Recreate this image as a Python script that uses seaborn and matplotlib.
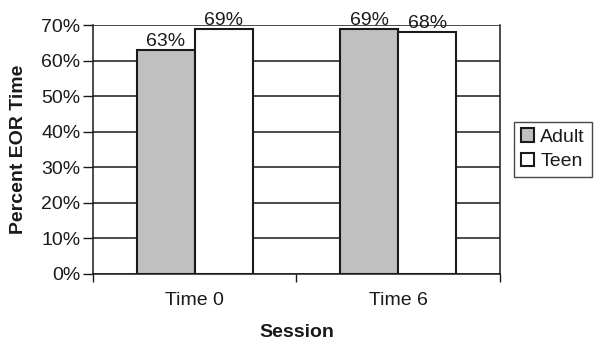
import pandas as pd
import numpy as np
import matplotlib
matplotlib.use("Agg")
import matplotlib.pyplot as plt
import seaborn as sns

# donnees
sessions = ["Time 0", "Time 6"]
groups = ["Adult", "Teen"]
adult = [63, 69]
teen = [69, 68]

df = pd.DataFrame({
    "Session": sessions * 2,
    "Group": ["Adult"] * 2 + ["Teen"] * 2,
    "Value": adult + teen,
})

sns.set_style("white")
plt.rcParams["font.family"] = ["Liberation Sans", "DejaVu Sans"]
fs = 14

fig = plt.figure(figsize=(6, 3.45), dpi=100)
ax = fig.add_axes([0.155, 0.206, 0.678, 0.7215])

sns.barplot(data=df, x="Session", y="Value", hue="Group", hue_order=groups,
            palette=["#c0c0c0", "#ffffff"], edgecolor="#1a1a1a", linewidth=1.5,
            width=0.57, gap=0, ax=ax, zorder=3)

ax.set_ylim(0, 70)
ax.set_xlim(-0.5, 1.5)
ax.set_yticks(np.arange(0, 71, 10))
ax.set_yticklabels([f"{v}%" for v in range(0, 71, 10)], fontsize=fs, color="#1a1a1a")
ax.yaxis.grid(True, color="#1a1a1a", linewidth=1.1)
ax.set_axisbelow(True)

# ticks aux separations des categories
ax.set_xticks([-0.5, 0.5, 1.5])
ax.set_xticklabels([])
ax.set_xticks([0, 1], minor=True)
ax.set_xticklabels(sessions, minor=True, fontsize=fs, color="#1a1a1a")
ax.tick_params(axis="x", which="major", direction="out", length=6, width=1, color="#1a1a1a", bottom=True)
ax.tick_params(axis="x", which="minor", length=0, pad=13)
ax.tick_params(axis="y", direction="out", length=7, width=1, color="#1a1a1a", left=True, pad=2)

for s in ["left", "bottom", "right"]:
    ax.spines[s].set_color("#1a1a1a")
    ax.spines[s].set_linewidth(1.1)
ax.spines["top"].set_visible(False)

for cont in ax.containers:
    ax.bar_label(cont, labels=[f"{v:.0f}%" for v in cont.datavalues], fontsize=fs,
                 padding=0, color="#1a1a1a")

ax.set_xlabel("Session", fontsize=fs, fontweight="bold", labelpad=11, color="#1a1a1a")
ax.set_ylabel("Percent EOR Time", fontsize=fs, fontweight="bold", labelpad=10, color="#1a1a1a")

leg = ax.legend(loc="center left", bbox_to_anchor=(1.035, 0.5), fontsize=fs,
                frameon=True, fancybox=False, edgecolor="#1a1a1a",
                handlelength=0.7, handleheight=0.7, handletextpad=0.3,
                borderpad=0.35, labelspacing=0.35, borderaxespad=0)
leg.get_frame().set_linewidth(1)
for t in leg.get_texts():
    t.set_color("#1a1a1a")

fig.savefig("out.png", dpi=100)
